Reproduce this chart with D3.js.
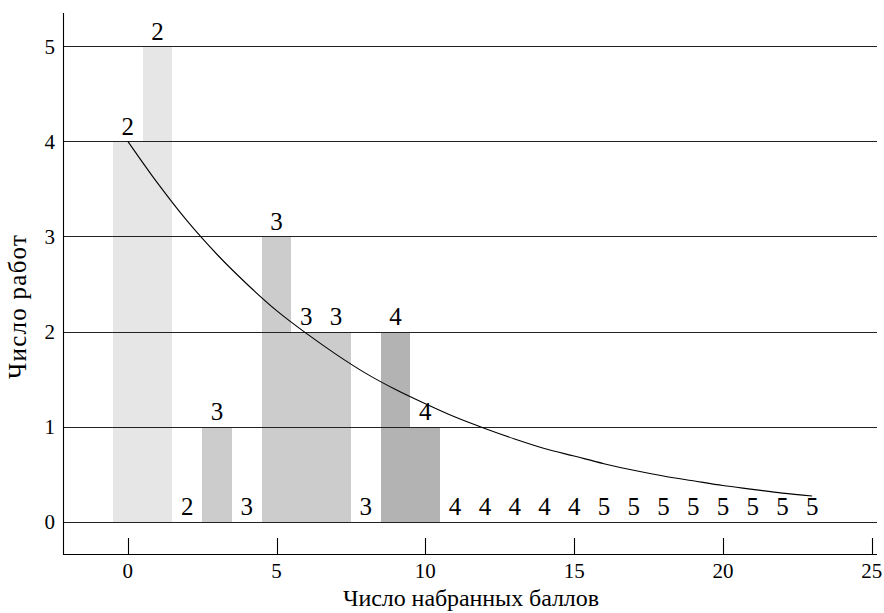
<!DOCTYPE html>
<html><head><meta charset="utf-8">
<script src="https://cdn.jsdelivr.net/npm/d3@7"></script>
<style>body{margin:0;background:#fff}svg{display:block}text{font-family:"Liberation Serif","DejaVu Serif",serif;fill:#000}</style>
</head><body>
<svg id="c" width="884" height="613"></svg>
<script>
const scores = d3.range(0, 24);
const counts = [4,5,0,1,0,3,2,2,0,2,1,0,0,0,0,0,0,0,0,0,0,0,0,0];
const grades = [2,2,2,3,3,3,3,3,3,4,4,4,4,4,4,4,5,5,5,5,5,5,5,5];
const curveVals = [4.00,3.56,3.16,2.81,2.50,2.22,1.98,1.76,1.56,1.39,1.24,1.10,0.98,0.87,0.77,0.69,0.61,0.54,0.48,0.43,0.38,0.34,0.30,0.27];
const xTicks = [0,5,10,15,20,25];
const yTicks = [0,1,2,3,4,5];
const gradeColor = {2:"#e6e6e6",3:"#cccccc",4:"#b3b3b3",5:"#999999"};

const svg = d3.select("#c");
const x = d3.scaleLinear().domain([-2.18, 25.18]).range([63, 877]);
const y = d3.scaleLinear().domain([-0.34, 5.35]).range([554, 13]);

svg.append("g").selectAll("rect").data(scores.filter(i=>counts[i]>0)).join("rect")
  .attr("x", d=>x(d-0.5)).attr("width", d=>x(d+0.5)-x(d-0.5))
  .attr("y", d=>y(counts[d])).attr("height", d=>y(0)-y(counts[d]))
  .attr("fill", d=>gradeColor[grades[d]]).attr("shape-rendering","crispEdges");

svg.append("g").selectAll("line").data(yTicks).join("line")
  .attr("x1", x.range()[0]).attr("x2", x.range()[1])
  .attr("y1", d=>Math.round(y(d))+0.5).attr("y2", d=>Math.round(y(d))+0.5)
  .attr("stroke","#222").attr("stroke-width",1.1);

svg.append("g").selectAll("text").data(yTicks).join("text")
  .attr("x", 55).attr("y", d=>y(d)).attr("dy","0.36em")
  .attr("text-anchor","end").attr("font-size",21).text(d=>d);

svg.append("line").attr("x1",63.5).attr("x2",63.5).attr("y1",13).attr("y2",554.5).attr("stroke","#000").attr("stroke-width",1.1);
svg.append("line").attr("x1",63).attr("x2",877).attr("y1",554.5).attr("y2",554.5).attr("stroke","#000").attr("stroke-width",1.1);

svg.append("g").selectAll("line").data(xTicks).join("line")
  .attr("x1", d=>Math.round(x(d))+0.5).attr("x2", d=>Math.round(x(d))+0.5)
  .attr("y1", 538).attr("y2", 554).attr("stroke","#000").attr("stroke-width",1.1);
svg.append("g").selectAll("text").data(xTicks).join("text")
  .attr("x", d=>x(d)).attr("y", 578).attr("text-anchor","middle").attr("font-size",21).text(d=>d);

const line = d3.line().x((d,i)=>x(scores[i])).y(d=>y(d)).curve(d3.curveMonotoneX);
svg.append("path").attr("d", line(curveVals)).attr("fill","none").attr("stroke","#000").attr("stroke-width",1.1);

svg.append("g").selectAll("text").data(scores).join("text")
  .attr("x", d=>x(d)).attr("y", d=>y(counts[d])-6.5)
  .attr("text-anchor","middle").attr("font-size",25).text(d=>grades[d]);

svg.append("text").attr("x", 471).attr("y", 606).attr("text-anchor","middle").attr("font-size",24)
  .attr("textLength",256).attr("lengthAdjust","spacing").text("Число набранных баллов");
svg.append("text").attr("transform","translate(26,307) rotate(-90)").attr("text-anchor","middle").attr("font-size",25)
  .attr("textLength",144).attr("lengthAdjust","spacing").text("Число работ");
</script>
</body></html>
